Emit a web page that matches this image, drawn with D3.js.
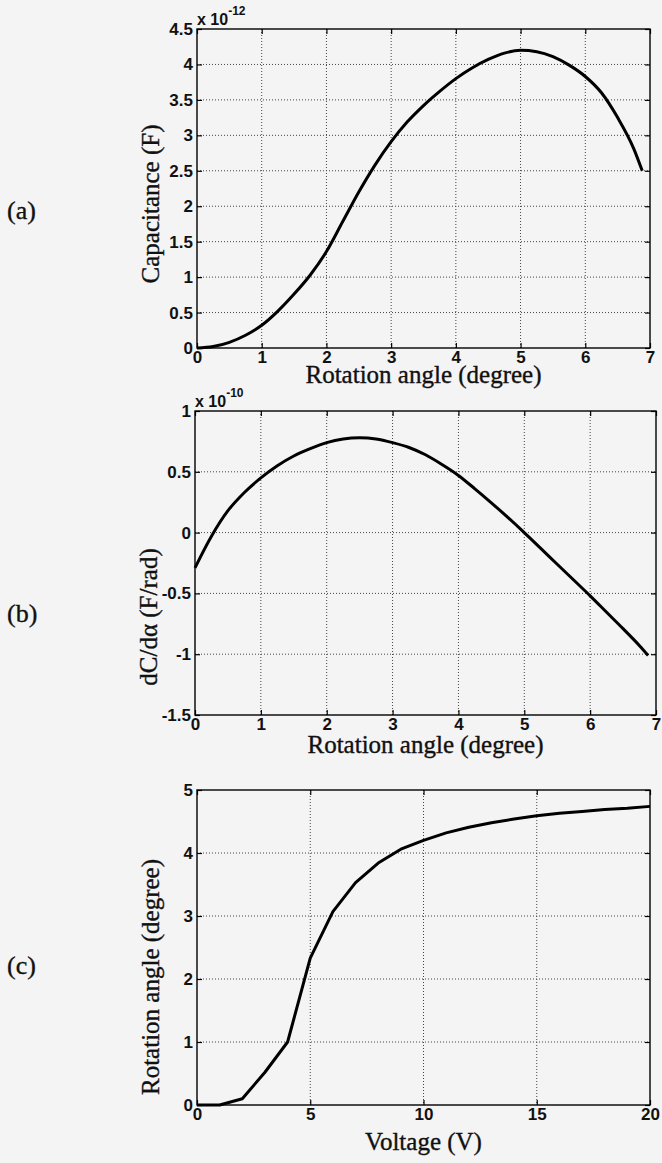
<!DOCTYPE html>
<html>
<head>
<meta charset="utf-8">
<script src="https://cdn.jsdelivr.net/npm/d3@7"></script>
<style>
  body { margin: 0; background: #f4f4f4; }
  svg { display: block; }
</style>
</head>
<body>
<div id="chart"></div>
<script>
// --- Data ---
const angleA = [0, 0.25, 0.5, 0.75, 1, 1.25, 1.5, 1.75, 2, 2.25, 2.5, 2.75, 3, 3.25, 3.5, 3.75, 4, 4.25, 4.5, 4.75, 5, 5.25, 5.5, 5.75, 6, 6.25, 6.5, 6.75, 6.88];
const capacitance = [0, 0.02, 0.08, 0.18, 0.32, 0.52, 0.76, 1.03, 1.36, 1.78, 2.2, 2.58, 2.91, 3.19, 3.42, 3.62, 3.8, 3.95, 4.07, 4.16, 4.2, 4.18, 4.11, 3.99, 3.83, 3.6, 3.25, 2.81, 2.5];

const angleB = angleA;
const dCdA = [-0.29, -0.03, 0.18, 0.33, 0.45, 0.55, 0.63, 0.69, 0.74, 0.77, 0.78, 0.77, 0.74, 0.7, 0.64, 0.56, 0.47, 0.36, 0.245, 0.125, 0.0, -0.13, -0.26, -0.39, -0.52, -0.655, -0.79, -0.93, -1.01];

const voltage = d3.range(0, 21);
const rotation = [0, 0, 0.1, 0.52, 1.0, 2.33, 3.07, 3.53, 3.84, 4.06, 4.2, 4.32, 4.41, 4.48, 4.54, 4.59, 4.63, 4.66, 4.69, 4.71, 4.74];

const ticksA = { x: d3.range(0, 8), y: d3.range(0, 4.51, 0.5) };
const ticksB = { x: d3.range(0, 8), y: [-1.5, -1, -0.5, 0, 0.5, 1] };
const ticksC = { x: [0, 5, 10, 15, 20], y: [0, 1, 2, 3, 4, 5] };

const W = 662, H = 1163;
const svg = d3.select("#chart").append("svg").attr("width", W).attr("height", H);

const tickFont = "'Liberation Sans', Arial, Helvetica, sans-serif";
const serif = "'Liberation Serif', 'Times New Roman', Times, serif";

const panels = [
  { tag: "(a)", xs: angleA, ys: capacitance, xd: [0, 7], yd: [0, 4.5], ticks: ticksA,
    box: { l: 197, r: 650, t: 29, b: 348 }, exp: "-12", xTitle: "Rotation angle (degree)",
    yTitle: "Capacitance (F)", yTitleY: 204, tagY: 219, xTitleY: 383, curve: d3.curveMonotoneX },
  { tag: "(b)", xs: angleB, ys: dCdA, xd: [0, 7], yd: [-1.5, 1], ticks: ticksB,
    box: { l: 195, r: 656, t: 411, b: 715 }, exp: "-10", xTitle: "Rotation angle (degree)",
    yTitle: "dC/dα (F/rad)", yTitleY: 617, tagY: 622, xTitleY: 753, curve: d3.curveMonotoneX },
  { tag: "(c)", xs: voltage, ys: rotation, xd: [0, 20], yd: [0, 5], ticks: ticksC,
    box: { l: 197, r: 650, t: 790, b: 1105 }, exp: null, xTitle: "Voltage (V)",
    yTitle: "Rotation angle (degree)", yTitleY: 977, tagY: 974, xTitleY: 1150, curve: d3.curveLinear }
];

const fmt = v => String(+v.toFixed(2));

panels.forEach(p => {
  const { l, r, t, b } = p.box;
  const x = d3.scaleLinear().domain(p.xd).range([l, r]);
  const y = d3.scaleLinear().domain(p.yd).range([b, t]);
  const g = svg.append("g");

  // grid
  g.append("g").selectAll("line").data(p.ticks.x.slice(1, -1)).join("line")
    .attr("x1", d => x(d)).attr("x2", d => x(d)).attr("y1", t).attr("y2", b);
  g.append("g").selectAll("line").data(p.ticks.y.slice(1, -1)).join("line")
    .attr("y1", d => y(d)).attr("y2", d => y(d)).attr("x1", l).attr("x2", r);
  g.selectAll("g line").attr("stroke", "#444").attr("stroke-width", 1).attr("stroke-dasharray", "1,2");

  // axes with inward ticks (MATLAB box style)
  const ax = (axis) => axis.tickSizeInner(-5).tickSizeOuter(0).tickPadding(9).tickFormat(fmt);
  const xb = g.append("g").attr("transform", `translate(0,${b})`).call(ax(d3.axisBottom(x).tickValues(p.ticks.x)));
  const yl = g.append("g").attr("transform", `translate(${l},0)`).call(ax(d3.axisLeft(y).tickValues(p.ticks.y)));
  g.append("g").attr("transform", `translate(0,${t})`).call(d3.axisTop(x).tickValues(p.ticks.x).tickSizeInner(-5).tickSizeOuter(0).tickFormat(""));
  g.append("g").attr("transform", `translate(${r},0)`).call(d3.axisRight(y).tickValues(p.ticks.y).tickSizeInner(-5).tickSizeOuter(0).tickFormat(""));
  g.selectAll(".domain").remove();
  g.selectAll(".tick line").attr("stroke", "#000").attr("stroke-width", 1.2);
  [xb, yl].forEach(a => a.selectAll("text")
    .attr("font-family", tickFont).attr("font-size", 17).attr("font-weight", "bold").attr("fill", "#111"));
  xb.selectAll("text").attr("dy", "0.71em").attr("y", 3);
  yl.selectAll("text").attr("x", -4);

  g.append("rect").attr("x", l).attr("y", t).attr("width", r - l).attr("height", b - t)
    .attr("fill", "none").attr("stroke", "#000").attr("stroke-width", 1.4);

  // curve
  const line = d3.line().x(d => x(d[0])).y(d => y(d[1])).curve(p.curve);
  g.append("path").datum(d3.zip(p.xs, p.ys)).attr("d", line)
    .attr("fill", "none").attr("stroke", "#000").attr("stroke-width", 3).attr("stroke-linejoin", "round");

  // exponent
  if (p.exp) {
    const e = g.append("text").attr("x", l).attr("y", t - 4)
      .attr("font-family", tickFont).attr("font-size", 16).attr("font-weight", "bold").attr("fill", "#111");
    e.append("tspan").text("x 10");
    e.append("tspan").attr("dy", -10).attr("font-size", 12).text(p.exp);
  }

  // titles
  const serifText = s => s.attr("font-family", serif).attr("fill", "#111")
    .attr("stroke", "#111").attr("stroke-width", 0.35);
  g.append("text").attr("x", (l + r) / 2).attr("y", p.xTitleY).attr("text-anchor", "middle")
    .attr("font-size", 25).call(serifText).text(p.xTitle);
  g.append("text").attr("transform", `translate(${l - 47},${p.yTitleY}) rotate(-90)`)
    .attr("text-anchor", "middle").attr("dy", "0.35em")
    .attr("font-size", 25).call(serifText).text(p.yTitle);
  g.append("text").attr("x", 7).attr("y", p.tagY)
    .attr("font-size", 26).call(serifText).text(p.tag);
});
</script>
</body>
</html>
